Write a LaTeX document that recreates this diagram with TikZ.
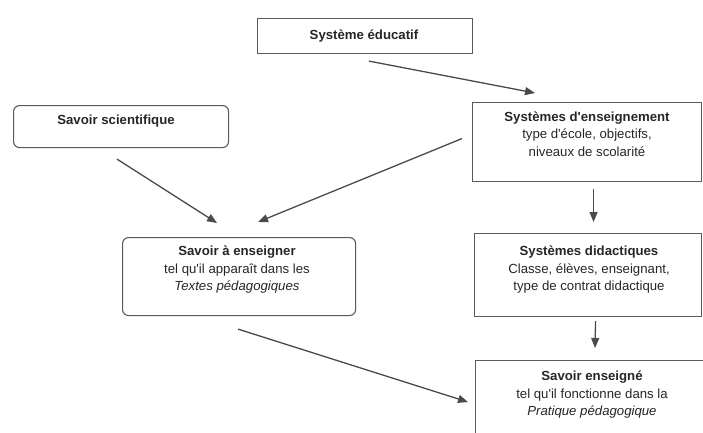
\documentclass[tikz,border=0pt]{standalone}
\usepackage{fontspec}
\setmainfont{Liberation Sans}
\usetikzlibrary{arrows.meta}
\definecolor{linec}{HTML}{4A4A4A}
\definecolor{boxc}{HTML}{5A5A5A}
\definecolor{txtc}{HTML}{262626}
\newcommand{\ap}{\textquotesingle}
\begin{document}
\begin{tikzpicture}[x=1pt,y=-1pt,
  box/.style={draw=boxc, line width=1.1pt, inner sep=0pt, anchor=north west},
  rbox/.style={box, rounded corners=6pt},
  arr/.style={draw=linec, line width=1.3pt, -{Triangle[length=10pt,width=8pt]}},
  txt/.style={align=center, font=\fontsize{13.2}{17.5}\selectfont, text=txtc, inner sep=0pt}]
\useasboundingbox (0,0) rectangle (703,432);
\clip (0,0) rectangle (703,432);
% boxes
\node[box, minimum width=215pt, minimum height=35pt] (se) at (257,18) {};
\node[rbox, minimum width=215pt, minimum height=42pt] (sci) at (13,105) {};
\node[box, minimum width=229pt, minimum height=79pt] (seing) at (472,102) {};
\node[rbox, minimum width=233pt, minimum height=78pt] (sae) at (122,237) {};
\node[box, minimum width=227pt, minimum height=83pt] (sd) at (474,233) {};
\node[box, minimum width=240pt, minimum height=90pt] (sen) at (475,360) {};
% texts
\node[txt] (tse) at (364,36) {\textbf{Système éducatif}};
\node[txt] (tsci) at (116,121) {\textbf{Savoir scientifique}};
\node[txt] (tseing) at (587,134) {\textbf{Systèmes d\ap enseignement}\\type d\ap école, objectifs,\\niveaux de scolarité};
\node[txt] (tsae) at (237,270) {\textbf{Savoir à enseigner}\\tel qu\ap il apparaît dans les\\\textit{Textes pédagogiques}};
\node[txt] (tsd) at (589,270) {\textbf{Systèmes didactiques}\\Classe, élèves, enseignant,\\type de contrat didactique};
\node[txt] (tsen) at (592,395) {\textbf{Savoir enseigné}\\tel qu\ap il fonctionne dans la\\\textit{Pratique pédagogique}};
% arrows
\draw[arr] ([xshift=112pt,yshift=-7pt]se.south west) -- ([xshift=63pt,yshift=9pt]seing.north west);
\draw[arr] ([xshift=104pt,yshift=-11pt]sci.south west) -- ([xshift=95pt,yshift=14pt]sae.north west);
\draw[arr] ([xshift=-10pt,yshift=3.5pt]seing.west) -- ([xshift=136pt,yshift=15pt]sae.north west);
\draw[arr] ([xshift=6.5pt,yshift=-7pt]seing.south) -- ([xshift=5.5pt,yshift=11pt]sd.north);
\draw[arr] ([xshift=7.5pt,yshift=-4pt]sd.south) -- ([xshift=120pt,yshift=12pt]sen.north west);
\draw[arr] ([xshift=116pt,yshift=-13pt]sae.south west) -- ([xshift=-7pt,yshift=-42pt]sen.north west);
\end{tikzpicture}
\end{document}
